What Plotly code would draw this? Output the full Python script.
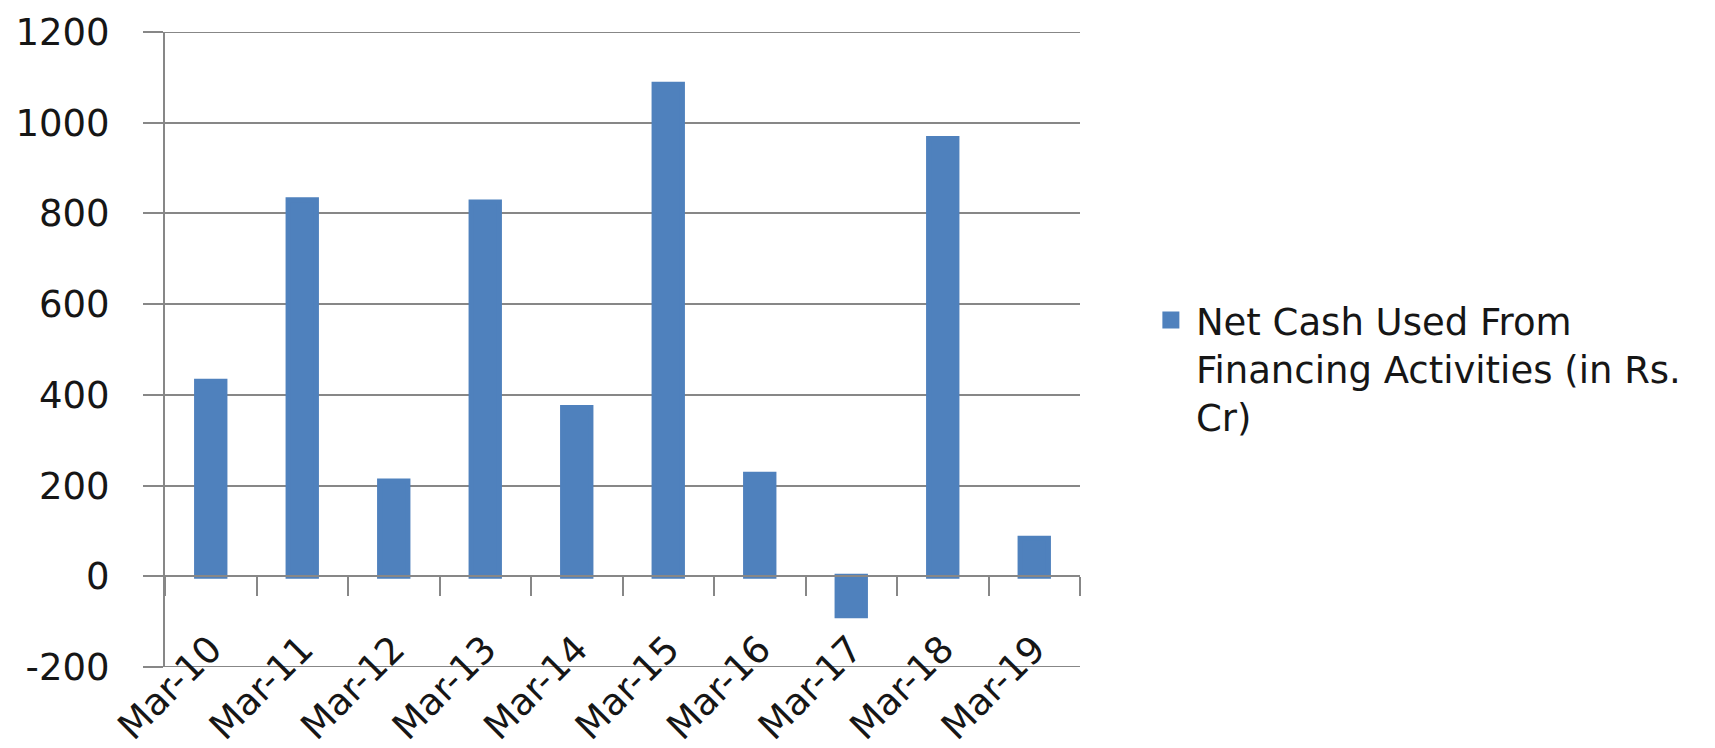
import plotly.graph_objects as go

categories = ["Mar-10", "Mar-11", "Mar-12", "Mar-13", "Mar-14",
              "Mar-15", "Mar-16", "Mar-17", "Mar-18", "Mar-19"]
net_cash_financing = [430, 830, 210, 825, 372, 1085, 225, -87, 965, 84]
series_name = "Net Cash Used From<br>Financing Activities (in Rs.<br>Cr)"
y_ticks = [-200, 0, 200, 400, 600, 800, 1000, 1200]
y_tick_text = ["-200", "0", "200", "400", "600", "800", "1000", "1200"]
y_range = [-200, 1200]

BAR_COLOR = "#4F81BD"
GRID = "#878787"
FONT = "DejaVu Sans"
TEXT = "#161616"

fig = go.Figure()
fig.add_trace(go.Bar(
    x=categories, y=net_cash_financing, name=series_name,
    marker=dict(color=BAR_COLOR, line=dict(color=BAR_COLOR, width=5)),
    width=0.31, showlegend=True,
))

# edge gridlines (plotly omits gridlines lying on the plot boundary)
for yv in (y_range[0], y_range[1]):
    fig.add_shape(type="line", xref="paper", yref="y", x0=0, x1=1,
                  y0=yv, y1=yv, layer="below",
                  line=dict(color=GRID, width=2))

fig.update_layout(
    template="none",
    width=1715, height=748,
    margin=dict(l=165, r=635, t=32, b=81, autoexpand=False),
    paper_bgcolor="white", plot_bgcolor="white",
    font=dict(family=FONT, size=37, color=TEXT),
    showlegend=True,
    legend=dict(x=1.072, y=0.47, xanchor="left", yanchor="middle",
                valign="top",
                font=dict(family=FONT, size=37, color=TEXT),
                itemwidth=40, bgcolor="rgba(0,0,0,0)", borderwidth=0),
    xaxis=dict(
        type="category", anchor="free", position=200 / 1400,
        automargin=False,
        showline=True, linecolor=GRID, linewidth=2,
        ticks="outside", tickson="boundaries", ticklen=19,
        tickcolor=GRID, tickwidth=2, showgrid=False, zeroline=False,
        tickangle=-45, ticklabelstandoff=35,
        tickfont=dict(family=FONT, size=37, color=TEXT),
    ),
    yaxis=dict(
        range=y_range, tickvals=y_ticks, ticktext=y_tick_text,
        automargin=False,
        showline=True, linecolor=GRID, linewidth=2,
        ticks="outside", ticklen=20, tickcolor=GRID, tickwidth=2,
        showgrid=True, gridcolor=GRID, gridwidth=2, zeroline=False,
        ticklabelstandoff=26,
        tickfont=dict(family=FONT, size=37, color=TEXT),
    ),
)

fig.write_html("out.html")
